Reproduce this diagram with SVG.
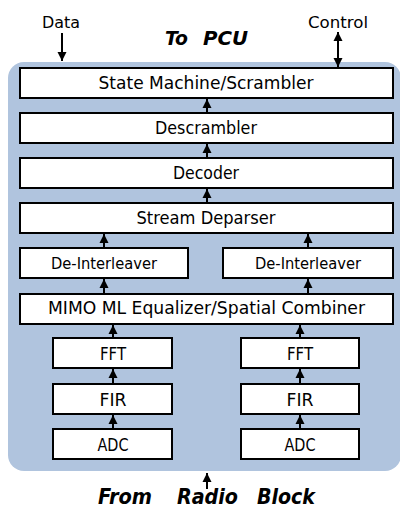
<svg xmlns="http://www.w3.org/2000/svg" width="400" height="510" viewBox="0 0 400 510">
<defs>
<style>
.box{fill:#fff;stroke:#000;stroke-width:2}
.t{font-family:"DejaVu Sans Condensed","DejaVu Sans",sans-serif;font-stretch:condensed;font-size:18.5px;text-anchor:middle;fill:#000}
.s{font-size:16.5px}
.h{font-family:"DejaVu Sans Condensed","DejaVu Sans",sans-serif;font-stretch:condensed;font-weight:bold;font-style:italic;fill:#000}
.c{stroke:#000;stroke-width:2;fill:none}
</style>
<marker id="ah" viewBox="0 0 10 10" refX="10" refY="5" markerWidth="9" markerHeight="10" orient="auto-start-reverse" markerUnits="userSpaceOnUse">
<path d="M0,0 L10,5 L0,10 z" fill="#000"/>
</marker>
</defs>
<rect x="8" y="62" width="393" height="409" rx="16" fill="#b0c4de"/>
<text class="t s" x="61" y="28" textLength="38" lengthAdjust="spacingAndGlyphs">Data</text>
<text class="t s" x="338" y="28" textLength="60" lengthAdjust="spacingAndGlyphs">Control</text>
<text class="h" y="45" font-size="20"><tspan x="165" textLength="23" lengthAdjust="spacingAndGlyphs">To</tspan><tspan x="203" textLength="45" lengthAdjust="spacingAndGlyphs">PCU</tspan></text>
<text class="h" y="504" font-size="21"><tspan x="98" textLength="54" lengthAdjust="spacingAndGlyphs">From</tspan><tspan x="177" textLength="61" lengthAdjust="spacingAndGlyphs">Radio</tspan><tspan x="257" textLength="58" lengthAdjust="spacingAndGlyphs">Block</tspan></text>
<g id="connectors">
<line class="c" x1="62" y1="33" x2="62" y2="61" marker-end="url(#ah)"/>
<line class="c" x1="338" y1="32" x2="338" y2="67" marker-start="url(#ah)" marker-end="url(#ah)"/>
<line class="c" x1="207" y1="113" x2="207" y2="99" marker-end="url(#ah)"/>
<line class="c" x1="207" y1="158" x2="207" y2="144" marker-end="url(#ah)"/>
<line class="c" x1="207" y1="203" x2="207" y2="189" marker-end="url(#ah)"/>
<line class="c" x1="104" y1="248" x2="104" y2="234" marker-end="url(#ah)"/>
<line class="c" x1="308" y1="248" x2="308" y2="234" marker-end="url(#ah)"/>
<line class="c" x1="104" y1="294" x2="104" y2="279" marker-end="url(#ah)"/>
<line class="c" x1="308" y1="294" x2="308" y2="279" marker-end="url(#ah)"/>
<line class="c" x1="113" y1="338" x2="113" y2="325" marker-end="url(#ah)"/>
<line class="c" x1="300" y1="338" x2="300" y2="325" marker-end="url(#ah)"/>
<line class="c" x1="113" y1="384" x2="113" y2="369" marker-end="url(#ah)"/>
<line class="c" x1="300" y1="384" x2="300" y2="369" marker-end="url(#ah)"/>
<line class="c" x1="113" y1="429" x2="113" y2="415" marker-end="url(#ah)"/>
<line class="c" x1="300" y1="429" x2="300" y2="415" marker-end="url(#ah)"/>
<line class="c" x1="207" y1="489" x2="207" y2="473" marker-end="url(#ah)"/>
</g>
<g id="state-machine"><rect class="box" x="20" y="68" width="373" height="30"/><text class="t" x="206" y="89" textLength="215" lengthAdjust="spacingAndGlyphs">State Machine/Scrambler</text></g>
<g id="descrambler"><rect class="box" x="20" y="113" width="373" height="30"/><text class="t" x="206" y="134" textLength="102" lengthAdjust="spacingAndGlyphs">Descrambler</text></g>
<g id="decoder"><rect class="box" x="20" y="158" width="373" height="30"/><text class="t" x="206" y="179" textLength="66" lengthAdjust="spacingAndGlyphs">Decoder</text></g>
<g id="stream-deparser"><rect class="box" x="20" y="203" width="373" height="30"/><text class="t" x="206" y="224" textLength="139" lengthAdjust="spacingAndGlyphs">Stream Deparser</text></g>
<g id="deinterleaver-1"><rect class="box" x="20" y="248" width="168" height="30"/><text class="t s" x="104" y="268.5" textLength="106" lengthAdjust="spacingAndGlyphs">De-Interleaver</text></g>
<g id="deinterleaver-2"><rect class="box" x="223" y="248" width="170" height="30"/><text class="t s" x="308" y="268.5" textLength="106" lengthAdjust="spacingAndGlyphs">De-Interleaver</text></g>
<g id="mimo"><rect class="box" x="20" y="294" width="373" height="30"/><text class="t" x="206.5" y="314" textLength="317" lengthAdjust="spacingAndGlyphs">MIMO ML Equalizer/Spatial Combiner</text></g>
<g id="fft-1"><rect class="box" x="53" y="338" width="119" height="30"/><text class="t" x="113" y="359.5" textLength="26" lengthAdjust="spacingAndGlyphs">FFT</text></g>
<g id="fft-2"><rect class="box" x="241" y="338" width="118" height="30"/><text class="t" x="300" y="359.5" textLength="26" lengthAdjust="spacingAndGlyphs">FFT</text></g>
<g id="fir-1"><rect class="box" x="53" y="384" width="119" height="30"/><text class="t" x="113" y="405.5" textLength="27" lengthAdjust="spacingAndGlyphs">FIR</text></g>
<g id="fir-2"><rect class="box" x="241" y="384" width="118" height="30"/><text class="t" x="300" y="405.5" textLength="27" lengthAdjust="spacingAndGlyphs">FIR</text></g>
<g id="adc-1"><rect class="box" x="53" y="429" width="119" height="30"/><text class="t" x="113" y="450.5" textLength="31" lengthAdjust="spacingAndGlyphs">ADC</text></g>
<g id="adc-2"><rect class="box" x="241" y="429" width="118" height="30"/><text class="t" x="300" y="450.5" textLength="31" lengthAdjust="spacingAndGlyphs">ADC</text></g>
</svg>
